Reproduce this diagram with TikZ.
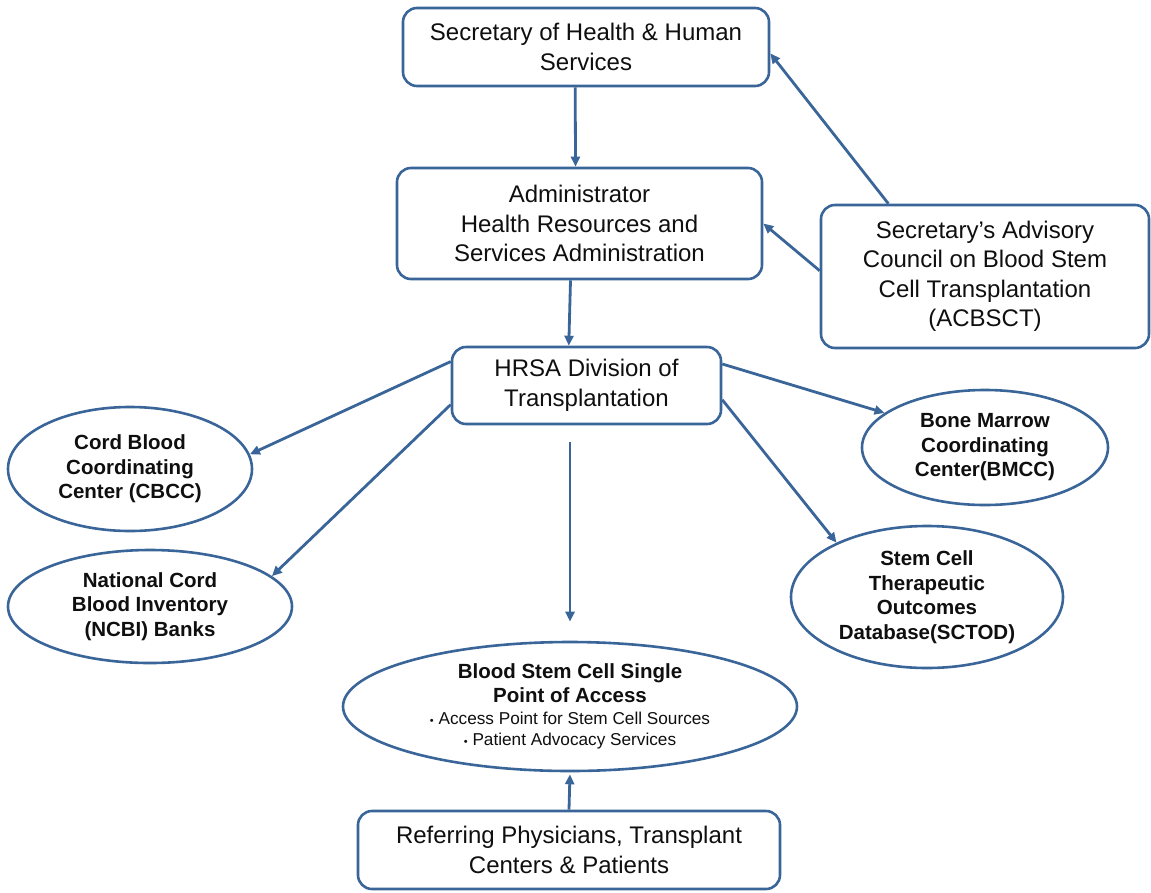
\documentclass[tikz,border=0pt]{standalone}
\usepackage{fontspec}
\setmainfont{Liberation Sans}
\usetikzlibrary{shapes.geometric,arrows.meta,calc}
\definecolor{edge}{RGB}{58,101,153}
\definecolor{txt}{RGB}{15,15,15}
\begin{document}
\begin{tikzpicture}[x=1pt,y=-1pt,
  box/.style={draw=edge,line width=2.6pt,rounded corners=14pt,fill=white,inner sep=0pt,align=center,
    font=\fontsize{24}{29.5}\selectfont,text=txt},
  oval/.style={draw=edge,line width=2.6pt,ellipse,fill=white,inner sep=0pt,align=center,
    font=\bfseries\fontsize{20.5}{24.5}\selectfont,text=txt},
  arr/.style={draw=edge,line width=2.8pt,-{Triangle[length=10pt,width=9pt]}}]
\useasboundingbox (0,0) rectangle (1151,892);

\node[box,minimum width=366pt,minimum height=78pt] (sec) at (586,47)
  {Secretary of Health \& Human\\Services};
\node[box,minimum width=365pt,minimum height=111pt] (admin) at (579.5,223.5)
  {Administrator\\Health Resources and\\Services Administration};
\node[box,minimum width=328pt,minimum height=143pt] (adv) at (985,276.5)
  {Secretary’s Advisory\\Council on Blood Stem\\Cell Transplantation\\(ACBSCT)};
\node[box,minimum width=269pt,minimum height=77pt] (hrsa) at (586.5,385.5)
  {HRSA Division of\\Transplantation};
\node[box,minimum width=422pt,minimum height=78pt] (ref) at (569,850)
  {Referring Physicians, Transplant\\Centers \& Patients};

\node[oval,minimum width=244pt,minimum height=124pt] (cbcc) at (130,469)
  {Cord Blood\\Coordinating\\Center (CBCC)};
\node[oval,minimum width=284pt,minimum height=113pt] (ncbi) at (150,606.5)
  {National Cord\\Blood Inventory\\(NCBI) Banks};
\node[oval,minimum width=246pt,minimum height=115pt] (bmcc) at (985,447.5)
  {Bone Marrow\\Coordinating\\Center(BMCC)};
\node[oval,minimum width=272pt,minimum height=142pt] (sctod) at (927,597)
  {Stem Cell\\Therapeutic\\Outcomes\\Database(SCTOD)};
\node[oval,minimum width=454pt,minimum height=129pt] (blood) at (570,706.5)
  {Blood Stem Cell Single\\Point of Access\\[-3pt]
   {\mdseries\fontsize{17.2}{22}\selectfont{\fontsize{11}{11}\selectfont\textbullet}\ Access Point for Stem Cell Sources}\\[-3pt]
   {\mdseries\fontsize{17.2}{22}\selectfont{\fontsize{11}{11}\selectfont\textbullet}\ Patient Advocacy Services}};

\draw[arr] (sec.-105) -- (admin.94.4);
\draw[arr] (admin.-99.4) -- (hrsa.114.6);
\draw[arr] (adv.143.5) -- (sec.-2.4);
\draw[arr] (adv.178.5) -- (admin.east);
\draw[arr] (hrsa.170.6) -- (cbcc.7.7);
\draw[arr] (hrsa.188.9) -- (ncbi.14.7);
\draw[arr] (hrsa.9) -- (bmcc.161.8);
\draw[arr] (hrsa.-6) -- (sctod.149.7);
\draw[arr,shorten <=17pt,shorten >=19pt] (hrsa.south -| blood.north) -- (blood.north);
\draw[arr,shorten >=2pt] (ref.north) -- (blood.south);
\end{tikzpicture}
\end{document}
